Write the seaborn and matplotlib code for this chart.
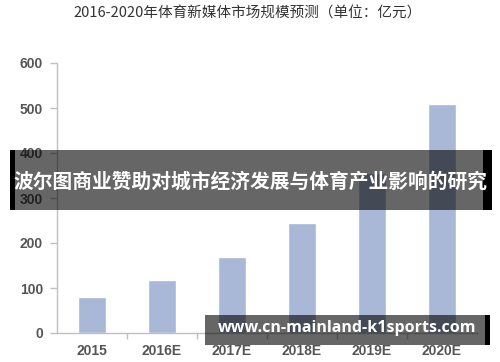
import matplotlib
matplotlib.use("Agg")
import matplotlib.pyplot as plt
import seaborn as sns
import pandas as pd
from matplotlib.patches import Rectangle

categories = ["2015", "2016E", "2017E", "2018E", "2019E", "2020E"]
values = [81, 117, 170, 244, 355, 510]
title = "2016-2020年体育新媒体市场规模预测（单位：亿元）"
banner = "波尔图商业赞助对城市经济发展与体育产业影响的研究"
watermark = "www.cn-mainland-k1sports.com"

sns.set_theme(style="white")
plt.rcParams['font.family'] = ['Liberation Sans', 'Noto Sans CJK SC', 'DejaVu Sans']

df = pd.DataFrame({"year": categories, "value": values})

fig = plt.figure(figsize=(5, 3.62), dpi=100)
ax = fig.add_axes([57/500, 1-333/362, 420/500, 270/362])
sns.barplot(data=df, x="year", y="value", color="#a8b8d6", saturation=1, width=0.4, ax=ax)

ax.set_xlim(-0.5, 5.5)
ax.set_ylim(0, 600)
ax.set_yticks(range(0, 601, 100))
ax.set_xlabel("")
ax.set_ylabel("")
for s in ["top", "right"]:
    ax.spines[s].set_visible(False)
for s in ["left", "bottom"]:
    ax.spines[s].set_color("#c0c0c0")
    ax.spines[s].set_linewidth(1)

ax.tick_params(axis="y", which="major", length=5, width=1, color="#c0c0c0", direction="out", pad=5,
               labelsize=10, labelcolor="#555555", left=True)
ax.tick_params(axis="x", which="major", length=0, pad=8, labelsize=10, labelcolor="#555555", bottom=True)
ax.set_xticks([i + 0.5 for i in range(5)], minor=True)
ax.tick_params(axis="x", which="minor", length=4, width=1, color="#c0c0c0", direction="out", bottom=True)
for lab in ax.get_xticklabels() + ax.get_yticklabels():
    lab.set_fontweight("bold")

fig.text(248/500, 1-14/362, title, ha="center", va="center", fontsize=10.5, color="#333333",
         family=['Noto Sans CJK SC', 'DejaVu Sans'])

def overlay(x0, y0, w, h, color, alpha):
    fig.patches.append(Rectangle((x0/500, 1-(y0+h)/362), w/500, h/362, transform=fig.transFigure,
                                 facecolor=color, alpha=alpha, edgecolor="none", zorder=10))

# banner overlay
overlay(10, 150, 5, 60, "black", 1)
overlay(15, 150, 468, 60, "black", 0.6)
overlay(483, 150, 9, 60, "black", 1)
fig.text(250/500, 1-182/362, banner, ha="center", va="center", fontsize=14.2, color="white",
         fontweight="bold", family=['Noto Sans CJK SC', 'DejaVu Sans'], zorder=11)

# watermark overlay
overlay(205, 315, 280, 30, "black", 0.6)
overlay(485, 315, 5, 30, "black", 1)
fig.text(347/500, 1-328/362, watermark, ha="center", va="center", fontsize=11.5, color="white",
         fontweight="bold", family=['Open Sans', 'DejaVu Sans'], zorder=11)

fig.savefig("out.png", dpi=100)
